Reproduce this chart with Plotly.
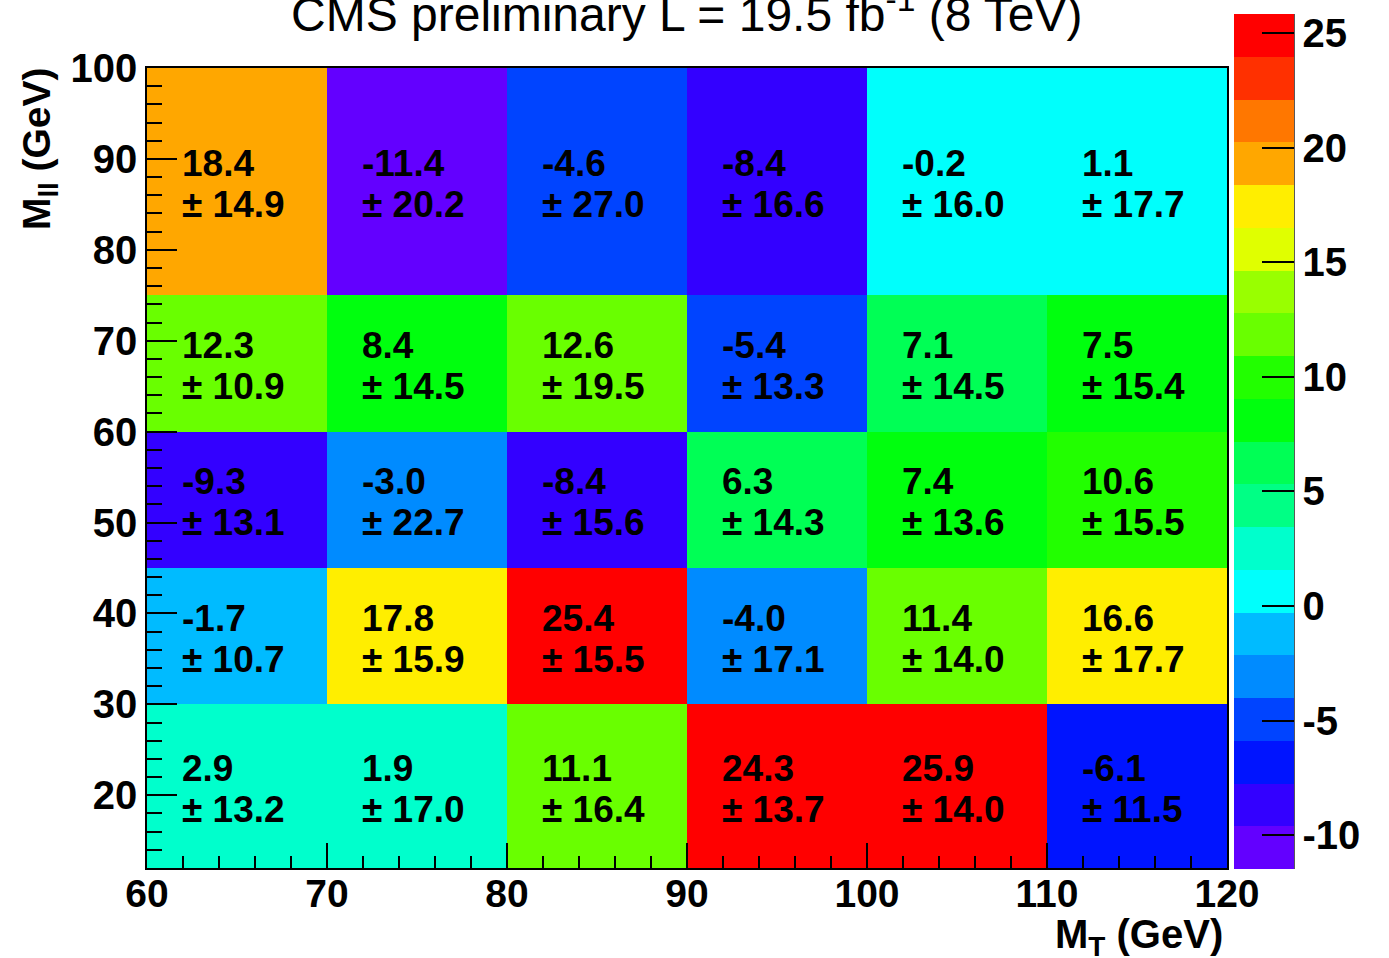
import plotly.graph_objects as go

# Bin edges
mt_edges = [60, 70, 80, 90, 100, 110, 120]
mll_edges = [12, 30, 45, 60, 75, 100]

# Bin contents (rows: M_ll bins from bottom to top, columns: M_T bins)
values = [
    [2.9, 1.9, 11.1, 24.3, 25.9, -6.1],
    [-1.7, 17.8, 25.4, -4.0, 11.4, 16.6],
    [-9.3, -3.0, -8.4, 6.3, 7.4, 10.6],
    [12.3, 8.4, 12.6, -5.4, 7.1, 7.5],
    [18.4, -11.4, -4.6, -8.4, -0.2, 1.1],
]
errors = [
    [13.2, 17.0, 16.4, 13.7, 14.0, 11.5],
    [10.7, 15.9, 15.5, 17.1, 14.0, 17.7],
    [13.1, 22.7, 15.6, 14.3, 13.6, 15.5],
    [10.9, 14.5, 19.5, 13.3, 14.5, 15.4],
    [14.9, 20.2, 27.0, 16.6, 16.0, 17.7],
]

z_lo, z_hi = -11.48, 25.84
cbar_ticks = [-10, -5, 0, 5, 10, 15, 20, 25]

# 20-level rainbow palette (violet -> red)
palette = [
    "#6300ff", "#3300ff", "#0014ff", "#0044ff", "#008bff",
    "#00bbff", "#00fffc", "#00ffcc", "#00ff85", "#00ff55",
    "#00ff0e", "#22ff00", "#69ff00", "#99ff00", "#e0ff00",
    "#ffee00", "#ffa700", "#ff7700", "#ff3000", "#ff0000",
]
n = len(palette)
colorscale = []
for i, c in enumerate(palette):
    colorscale.append([i / n, c])
    colorscale.append([(i + 1) / n, c])

FONT = "Liberation Sans, Arial, Helvetica, sans-serif"

W, H = 1389, 958
ML, MR, MT, MB = 147, 162, 68, 90
PW, PH = W - ML - MR, H - MT - MB

fig = go.Figure()
fig.add_trace(go.Heatmap(
    x=mt_edges, y=mll_edges, z=values,
    zmin=z_lo, zmax=z_hi,
    colorscale=colorscale,
    hoverinfo="skip",
    colorbar=dict(
        thickness=60, thicknessmode="pixels",
        len=855 / PH, lenmode="fraction",
        x=(1234 - ML) / PW, xanchor="left",
        y=(MT + PH - 441.5) / PH, yanchor="middle",
        xpad=0, ypad=0,
        outlinewidth=0,
        ticks="inside", ticklen=32, tickwidth=1.5, tickcolor="black",
        tickvals=cbar_ticks,
        ticktext=[str(v) for v in cbar_ticks],
        tickfont=dict(family=FONT, size=40, color="black", weight="bold"),
    ),
))

# Cell labels: value and uncertainty, left aligned inside each bin
for i in range(len(mll_edges) - 1):
    yc = (mll_edges[i] + mll_edges[i + 1]) / 2
    for j in range(len(mt_edges) - 1):
        x0 = mt_edges[j]
        fig.add_annotation(
            x=x0, y=yc, xref="x", yref="y",
            text=f"{values[i][j]:.1f}", showarrow=False,
            xanchor="left", yanchor="middle", xshift=33, yshift=18,
            font=dict(family=FONT, size=37, color="black", weight="bold"),
        )
        fig.add_annotation(
            x=x0, y=yc, xref="x", yref="y",
            text=f"± {errors[i][j]:.1f}", showarrow=False,
            xanchor="left", yanchor="middle", xshift=33, yshift=-23,
            font=dict(family=FONT, size=37, color="black", weight="bold"),
        )

# Title
fig.add_annotation(
    x=0.5, y=(MT + PH - 43) / PH, xref="paper", yref="paper",
    text="CMS preliminary L = 19.5 fb<sup>-1</sup> (8 TeV)",
    showarrow=False, xanchor="center", yanchor="bottom",
    font=dict(family=FONT, size=48, color="black"),
)

# Axis titles
fig.add_annotation(
    x=(1225 - ML) / PW, y=(MT + PH - 910) / PH, xref="paper", yref="paper",
    text="M<sub>T</sub> (GeV)", showarrow=False,
    xanchor="right", yanchor="top",
    font=dict(family=FONT, size=40, color="black", weight="bold"),
)
fig.add_annotation(
    x=(39.5 - ML) / PW, y=1 + 3 / PH, xref="paper", yref="paper",
    text="M<sub>ll</sub> (GeV)", showarrow=False, textangle=-90,
    xanchor="center", yanchor="top",
    font=dict(family=FONT, size=39, color="black", weight="bold"),
)

# Right edge line of the colour bar
fig.add_shape(
    type="line", xref="paper", yref="paper",
    x0=(1294 - ML) / PW, x1=(1294 - ML) / PW,
    y0=(MT + PH - 869) / PH, y1=(MT + PH - 14) / PH,
    line=dict(color="#222222", width=1.5),
)

axis_common = dict(
    showgrid=False, zeroline=False,
    showline=True, mirror=True, linecolor="black", linewidth=1.5,
    ticks="inside", tickwidth=1.5, tickcolor="black",
)
fig.update_xaxes(
    range=[mt_edges[0], mt_edges[-1]], tick0=60, dtick=10, ticklen=25,
    ticklabelstandoff=-10,
    tickfont=dict(family=FONT, size=39, color="black", weight="bold"),
    minor=dict(dtick=2, ticks="inside", ticklen=12, tickwidth=1.5, tickcolor="black"),
    **axis_common,
)
fig.update_yaxes(
    range=[mll_edges[0], mll_edges[-1]], tick0=0, dtick=10, ticklen=30,
    tickfont=dict(family=FONT, size=40, color="black", weight="bold"),
    minor=dict(dtick=2, ticks="inside", ticklen=15, tickwidth=1.5, tickcolor="black"),
    **axis_common,
)

fig.update_layout(
    width=W, height=H,
    margin=dict(l=ML, r=MR, t=MT, b=MB, pad=0, autoexpand=False),
    paper_bgcolor="white", plot_bgcolor="white",
    showlegend=False,
)

fig.write_html("out.html")
